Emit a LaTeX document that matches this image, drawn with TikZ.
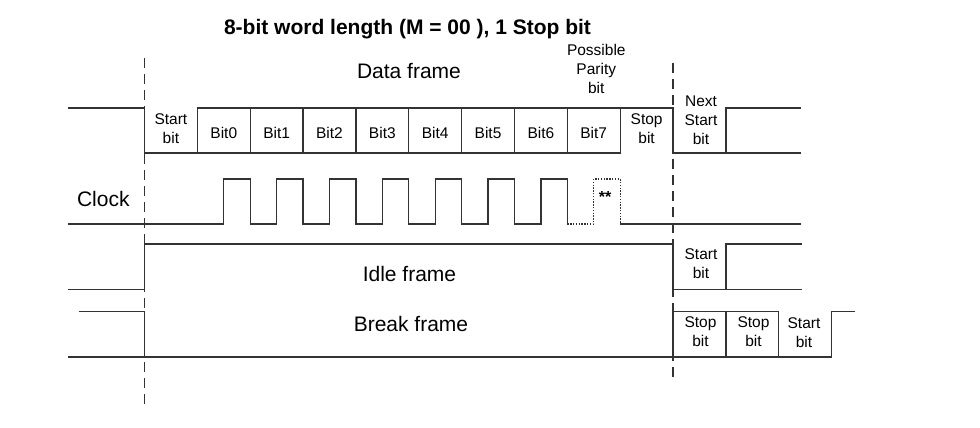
\documentclass[tikz,border=0pt]{standalone}
\usepackage{fontspec}
\setmainfont{Liberation Sans}
\begin{document}
\begin{tikzpicture}[x=1pt,y=-1pt,
  wave/.style={line width=1.3pt, draw=black!80, line join=miter},
  guide/.style={line width=1.3pt, draw=black!80, dash pattern=on 10pt off 6pt},
  dotwave/.style={line width=1.2pt, draw=black!80, dash pattern=on 1.4pt off 1.4pt},
  big/.style={font=\fontsize{21}{25}\selectfont, inner sep=0pt, anchor=base},
  small/.style={font=\fontsize{15.5}{19}\selectfont, inner sep=0pt, align=center, anchor=base},
]
\useasboundingbox (0,0) rectangle (980,428);

% guides
\draw[guide] (144.5,58) -- (144.5,405);
\draw[guide] (673,63) -- (673,377);

% data frame waveform
\draw[wave] (68,108) -- (144.5,108) -- (144.5,153) -- (620.15,153) -- (620.15,108);
\draw[wave] (197.35,153) -- (197.35,108) -- (673,108) -- (673,153) -- (801,153);
\foreach \k in {2,...,8} \draw[wave] ({144.5+\k*52.85},108) -- ({144.5+\k*52.85},153);
\draw[wave] (725.85,153) -- (725.85,108) -- (801,108);

% clock
\draw[wave] (68,224) \foreach \k in {1,...,7} { -- ({144.5+(\k+0.5)*52.85},224) -- ++(0,-45) -- ({144.5+(\k+1)*52.85},179) -- ++(0,45) };
\draw[dotwave] (567.3,224) -- (593.7,224) -- (593.7,179) -- (620.15,179) -- (620.15,224);
\draw[wave] (620.15,224) -- (801,224);

% idle frame
\draw[wave] (68,289.5) -- (144.5,289.5) -- (144.5,244) -- (673,244) -- (673,289.5) -- (802,289.5);
\draw[wave] (725.85,289.5) -- (725.85,244) -- (802,244);

% break frame
\draw[wave] (79,311.5) -- (144.5,311.5) -- (144.5,357);
\draw[wave] (68,357) -- (831.55,357) -- (831.55,311.5) -- (855,311.5);
\draw[wave] (673,357) -- (673,311.5) -- (778.7,311.5) -- (778.7,357);
\draw[wave] (725.85,311.5) -- (725.85,357);

% texts (multi-line nodes: base = last line's baseline)
\node[big, font=\fontsize{21}{25}\selectfont\bfseries] (title) at (407.5,34.3) {8-bit word length (M = 00 ), 1 Stop bit};
\node[big] (dataframe) at (409,78.3) {Data frame};
\node[small] (parity) at (596.3,93.3) {Possible\\Parity\\bit};
\node[small] (startlbl) at (170.9,143.3) {Start\\bit};
\foreach \k in {0,...,7} \node[small] (bit\k) at ({144.5+(\k+1.5)*52.85},138.3) {Bit\k};
\node[small] (stoplbl) at (646.6,143.3) {Stop\\bit};
\node[small] (nextstart) at (701,144.3) {Next\\Start\\bit};
\node[big] (clock) at (103.3,206) {Clock};
\node[small, font=\fontsize{16}{19}\selectfont\bfseries] (stars) at (605,202.7) {**};
\node[big] (idle) at (409.5,281.7) {Idle frame};
\node[small] (idlestart) at (701,278.3) {Start\\bit};
\node[big] (brk) at (411,331.7) {Break frame};
\node[small] (bstop1) at (700.5,346.5) {Stop\\bit};
\node[small] (bstop2) at (753.5,346.5) {Stop\\bit};
\node[small] (bstart) at (804,347.3) {Start\\bit};
\end{tikzpicture}
\end{document}
